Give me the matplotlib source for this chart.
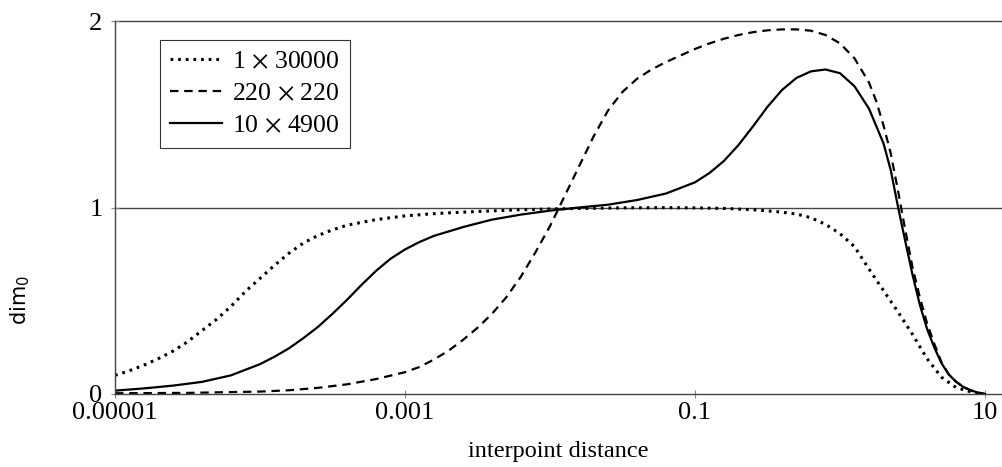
import numpy as np
import matplotlib
matplotlib.use("Agg")
import matplotlib.pyplot as plt

# --- data ---
# x values are given as log10(interpoint distance); y is dim_0
lx_1x30000 = [-5.0, -4.9, -4.8, -4.7, -4.6, -4.5, -4.4, -4.3, -4.2, -4.1, -4.0, -3.9,
              -3.8, -3.7, -3.6, -3.5, -3.4, -3.3, -3.2, -3.0, -2.8, -2.6, -2.4, -2.2,
              -2.0, -1.8, -1.5, -1.2, -1.0, -0.8, -0.6, -0.5, -0.4, -0.3, -0.2, -0.1,
              0.0, 0.1, 0.2, 0.3, 0.4, 0.5, 0.6, 0.7, 0.8, 0.9, 0.97]
y_1x30000 = [0.10, 0.125, 0.155, 0.19, 0.23, 0.28, 0.34, 0.40, 0.47, 0.55, 0.62, 0.69,
             0.755, 0.81, 0.85, 0.88, 0.905, 0.92, 0.935, 0.955, 0.967, 0.975, 0.982, 0.988,
             0.992, 0.995, 0.998, 0.999, 0.998, 0.995, 0.988, 0.982, 0.975, 0.965, 0.945, 0.91,
             0.86, 0.79, 0.67, 0.555, 0.44, 0.32, 0.19, 0.09, 0.035, 0.012, 0.0]

lx_220x220 = [-5.0, -4.5, -4.0, -3.8, -3.6, -3.4, -3.2, -3.0, -2.9, -2.8, -2.7, -2.6,
              -2.5, -2.4, -2.3, -2.2, -2.1, -2.0, -1.9, -1.8, -1.7, -1.6, -1.5, -1.4,
              -1.3, -1.2, -1.1, -1.0, -0.9, -0.8, -0.7, -0.6, -0.5, -0.4, -0.3, -0.2,
              -0.1, 0.0, 0.1, 0.2, 0.25, 0.3, 0.35, 0.4, 0.45, 0.5, 0.55, 0.6,
              0.65, 0.7, 0.75, 0.8, 0.85, 0.9, 0.95, 1.0]
y_220x220 = [0.004, 0.006, 0.013, 0.02, 0.033, 0.052, 0.08, 0.117, 0.145, 0.185, 0.232, 0.29,
             0.355, 0.43, 0.52, 0.63, 0.76, 0.90, 1.06, 1.22, 1.38, 1.52, 1.62, 1.69,
             1.74, 1.78, 1.815, 1.85, 1.88, 1.905, 1.925, 1.94, 1.95, 1.955, 1.955, 1.948,
             1.925, 1.88, 1.80, 1.67, 1.57, 1.44, 1.29, 1.09, 0.88, 0.68, 0.52, 0.38,
             0.27, 0.17, 0.105, 0.066, 0.038, 0.02, 0.008, 0.0]

lx_10x4900 = [-5.0, -4.8, -4.6, -4.4, -4.2, -4.0, -3.9, -3.8, -3.7, -3.6, -3.5, -3.4,
              -3.3, -3.2, -3.1, -3.0, -2.9, -2.8, -2.6, -2.4, -2.2, -2.0, -1.8, -1.6,
              -1.4, -1.2, -1.0, -0.9, -0.8, -0.7, -0.6, -0.5, -0.4, -0.3, -0.2, -0.1,
              0.0, 0.1, 0.2, 0.3, 0.35, 0.4, 0.45, 0.5, 0.55, 0.6, 0.65, 0.7,
              0.75, 0.8, 0.85, 0.9, 0.95, 1.0]
y_10x4900 = [0.018, 0.03, 0.045, 0.065, 0.10, 0.16, 0.20, 0.245, 0.30, 0.36, 0.43, 0.505,
             0.585, 0.66, 0.725, 0.775, 0.815, 0.848, 0.895, 0.935, 0.962, 0.983, 1.0, 1.015,
             1.04, 1.075, 1.135, 1.185, 1.25, 1.335, 1.435, 1.54, 1.63, 1.695, 1.73, 1.74,
             1.72, 1.65, 1.53, 1.344, 1.20, 1.004, 0.82, 0.64, 0.48, 0.35, 0.25, 0.165,
             0.105, 0.066, 0.038, 0.02, 0.008, 0.0]

labels = [r"1 $\times$ 30000", r"220 $\times$ 220", r"10 $\times$ 4900"]
x_ticks = [1e-5, 1e-3, 1e-1, 10]
x_ticklabels = ["0.00001", "0.001", "0.1", "10"]
y_ticks = [0, 1, 2]

plt.rcParams["font.family"] = ["Liberation Serif", "DejaVu Serif"]
plt.rcParams["mathtext.fontset"] = "stix"

fig = plt.figure(figsize=(10.02, 4.67), dpi=100)
ax = fig.add_axes([115 / 1002, 1 - 394 / 467, 1 - 115 / 1002, (394 - 21) / 467])

ax.plot(np.power(10.0, lx_1x30000), y_1x30000, color="black", lw=2.2,
        linestyle=(0, (0.9, 1.6)), dash_capstyle="butt", label=labels[0])
ax.plot(np.power(10.0, lx_220x220), y_220x220, color="black", lw=1.6,
        linestyle=(0, (3.8, 2.6)), dash_capstyle="butt", label=labels[1])
ax.plot(np.power(10.0, lx_10x4900), y_10x4900, color="black", lw=1.6,
        linestyle="-", label=labels[2])

ax.set_xscale("log")
ax.set_xlim(1e-5, 13.1)
ax.set_ylim(0, 2)

for yv in (1, 2):
    ax.axhline(yv, color="#444444", lw=1.0, zorder=0.5, clip_on=False)

for s in ("top", "right"):
    ax.spines[s].set_visible(False)
for s in ("left", "bottom"):
    ax.spines[s].set_color("#444444")
    ax.spines[s].set_linewidth(1.0)

ax.set_xticks(x_ticks)
ax.set_xticklabels(x_ticklabels)
ax.minorticks_off()
ax.set_yticks(y_ticks)
ax.set_yticklabels([str(v) for v in y_ticks])
ax.tick_params(axis="both", direction="inout", length=6, width=0.8,
               color="#888888", labelsize=19)
ax.tick_params(axis="x", pad=2.5)
ax.tick_params(axis="y", pad=6)

ax.set_xlabel("interpoint distance", fontsize=17.5)
ax.xaxis.set_label_coords(0.5, -0.125)
ax.set_ylabel(r"$\mathregular{dim_0}$", fontsize=15, family="DejaVu Sans")
ax.yaxis.set_label_coords(-0.094, 0.252)

leg = ax.legend(loc="upper left", bbox_to_anchor=(45 / 887, 1 - 19 / 373),
                fontsize=18.5, frameon=True, fancybox=False, edgecolor="black",
                handlelength=2.0, handletextpad=0.4, borderpad=0.4,
                labelspacing=0.35, borderaxespad=0)
leg.get_frame().set_linewidth(0.8)

fig.savefig("out.png", dpi=100)
